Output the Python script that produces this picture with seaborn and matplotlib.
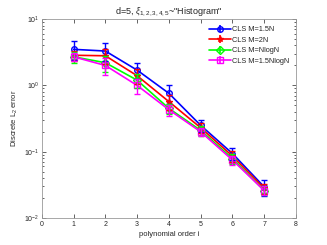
import numpy as np
import pandas as pd
import matplotlib
matplotlib.use("Agg")
import matplotlib.pyplot as plt
import seaborn as sns

# ---------- data ----------
orders = [1, 2, 3, 4, 5, 6, 7]
labels = ["CLS M=1.5N", "CLS M=2N", "CLS M=NlogN", "CLS M=1.5NlogN"]
err_15n = [3.5, 3.3, 1.70, 0.76, 0.25, 0.094, 0.0295]
err_2n = [2.85, 2.8, 1.40, 0.57, 0.23, 0.086, 0.028]
err_nlogn = [2.7, 2.2, 1.20, 0.45, 0.21, 0.079, 0.026]
err_15nlogn = [2.7, 2.0, 1.00, 0.43, 0.20, 0.075, 0.026]
std_15n = [1.1, 1.0, 0.45, 0.24, 0.05, 0.02, 0.008]
std_2n = [0.5, 0.7, 0.35, 0.15, 0.04, 0.015, 0.005]
std_nlogn = [0.5, 0.6, 0.30, 0.08, 0.035, 0.013, 0.004]
std_15nlogn = [0.4, 0.55, 0.25, 0.08, 0.03, 0.012, 0.004]

series = [err_15n, err_2n, err_nlogn, err_15nlogn]
stds = [std_15n, std_2n, std_nlogn, std_15nlogn]
colors = ["#0000ff", "#ff0000", "#00ff00", "#ff00ff"]
markers = ["o", "*", "D", "s"]

sns.set_style("ticks")
plt.rcParams["font.family"] = ["Liberation Sans", "DejaVu Sans"]
plt.rcParams["mathtext.fontset"] = "custom"
plt.rcParams["mathtext.rm"] = "Liberation Sans"
plt.rcParams["mathtext.it"] = "Liberation Sans:italic"

df = pd.DataFrame({
    "order": orders * len(labels),
    "error": sum(series, []),
    "method": [lab for lab in labels for _ in orders],
})

fig = plt.figure(figsize=(3.27, 2.45), dpi=100)
ax = fig.add_axes([0.128, 0.110, 0.777, 0.812])

sns.lineplot(data=df, x="order", y="error", hue="method", style="method",
             palette=colors, markers=markers, dashes=False, ax=ax,
             linewidth=1.2, markersize=4, markeredgewidth=1.0,
             legend=False)
for line, c in zip(ax.lines, colors):
    line.set_markerfacecolor("none")
    line.set_markeredgecolor(c)
for i in range(len(labels)):
    ax.errorbar(orders, series[i], yerr=stds[i], fmt="none",
                ecolor=colors[i], elinewidth=1.0, capsize=2, capthick=1.0)

# legend handles with error bar look
handles = []
for i, lab in enumerate(labels):
    h = ax.errorbar([], [], yerr=[], color=colors[i], marker=markers[i],
                    markersize=4, markerfacecolor="none", linewidth=1.2,
                    capsize=2, label=lab)
    handles.append(h)
ax.legend(handles=handles, loc="upper right", bbox_to_anchor=(0.975, 0.965),
          frameon=False, fontsize=5.3, handlelength=3.0, labelspacing=0.45,
          handletextpad=0.15, borderaxespad=0, borderpad=0)

ax.set_yscale("log")
ax.set_xlim(0, 8)
ax.set_ylim(1e-2, 1e1)
ax.set_xticks(range(0, 9))
ax.tick_params(axis="both", which="both", direction="in", top=True, right=True,
               labelsize=5, colors="#262626", width=0.5, pad=2)
ax.tick_params(which="major", length=3)
ax.tick_params(which="minor", length=1.5)
for sp in ax.spines.values():
    sp.set_color("#999999")
    sp.set_linewidth(0.6)

ax.set_title(r'd=5, $\xi_{1,2,3,4,5}$~"Histogram"', fontsize=6.5, pad=4)
ax.set_xlabel("polynomial order i", fontsize=5.5, labelpad=2)
ax.set_ylabel(r"Discrete L$_2$ error", fontsize=5.5, labelpad=3)

fig.savefig("out.png", dpi=100)
